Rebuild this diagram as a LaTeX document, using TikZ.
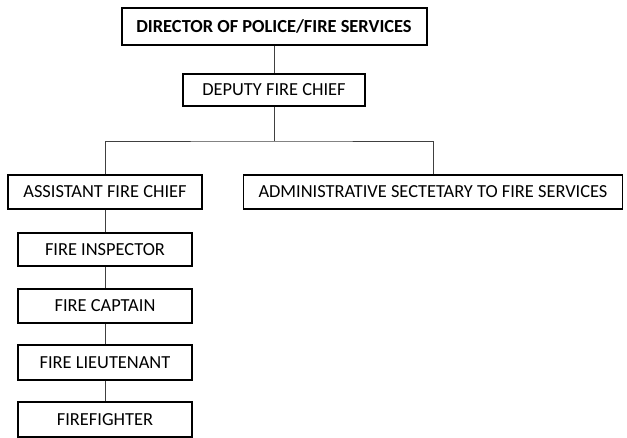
\documentclass[tikz,border=0pt]{standalone}
\usepackage{fontspec}
\setmainfont{Carlito}
\tikzset{
  post/.style={draw=black, line width=1.1pt, inner sep=0pt, font=\fontsize{13.8pt}{16pt}\selectfont},
  toppost/.style={post, line width=1.5pt, font=\fontsize{13.8pt}{16pt}\selectfont\bfseries},
  link/.style={draw=black!75, line width=0.7pt}
}
\begin{document}
\begin{tikzpicture}[x=0.75pt,y=-0.75pt]
\useasboundingbox (0,0) rectangle (627,438);
\node[toppost, minimum width=228.75pt, minimum height=27.75pt] (dir) at (274,26.5) {DIRECTOR OF POLICE/FIRE SERVICES};
\node[post, minimum width=136.5pt, minimum height=24pt] (dep) at (274,90) {DEPUTY FIRE CHIEF};

\node[post, minimum width=145.5pt, minimum height=25.5pt] (asst) at (105,192) {ASSISTANT FIRE CHIEF};
\node[post, minimum width=284.25pt, minimum height=25.5pt] (admin) at (433,192) {ADMINISTRATIVE SECTETARY TO FIRE SERVICES};

\node[post, minimum width=130.5pt, minimum height=24.75pt] (insp) at (105,249.5) {FIRE INSPECTOR};
\node[post, minimum width=130.5pt, minimum height=25.5pt] (capt) at (105,306) {FIRE CAPTAIN};
\node[post, minimum width=130.5pt, minimum height=26.25pt] (lieut) at (105,362.5) {FIRE LIEUTENANT};
\node[post, minimum width=130.5pt, minimum height=26.25pt] (ff) at (105,419.5) {FIREFIGHTER};

\coordinate (split) at (274,141);
\draw[link] (dir.south) -- (dep.north);
\draw[link] (dep.south) -- (split);
\draw[link] (asst.north) |- (split) -| (admin.north);
\draw[link] (asst.south) -- (insp.north);
\draw[link] (insp.south) -- (capt.north);
\draw[link] (capt.south) -- (lieut.north);
\draw[link] (lieut.south) -- (ff.north);
\end{tikzpicture}
\end{document}
